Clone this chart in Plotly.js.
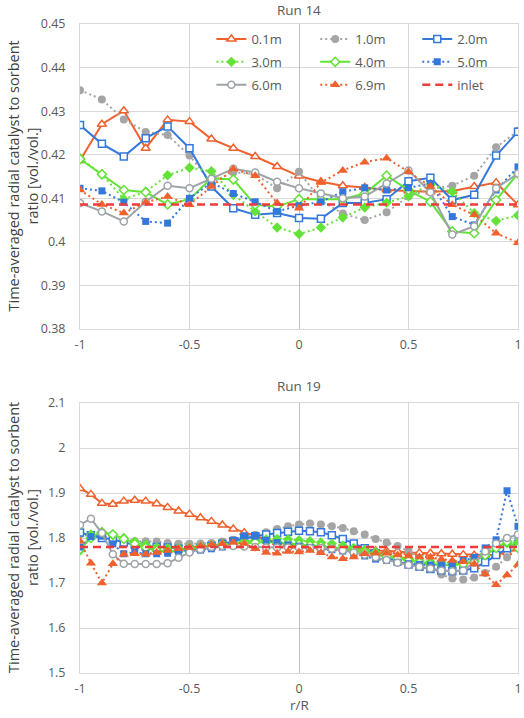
<!DOCTYPE html>
<html><head><meta charset="utf-8">
<script src="https://cdn.plot.ly/plotly-3.0.1.min.js"></script>
<style>html,body{margin:0;padding:0;background:#fff}#chart{width:524px;height:718px}</style>
</head><body><div id="chart"></div>
<script>
// ---------- DATA ----------
var seriesNames = ['0.1m','1.0m','2.0m','3.0m','4.0m','5.0m','6.0m','6.9m','inlet'];
var xTickVals = [-1,-0.5,0,0.5,1];
var xTickText = ['-1','-0.5','0','0.5','1'];
var panelTitles = ['Run 14','Run 19'];
var yTitle = 'Time-averaged radial catalyst to sorbent<br>ratio [vol./vol.]';
var xTitle = 'r/R';

// Run 14 (top), r/R step 0.1
var xTop = [-1,-0.9,-0.8,-0.7,-0.6,-0.5,-0.4,-0.3,-0.2,-0.1,0,0.1,0.2,0.3,0.4,0.5,0.6,0.7,0.8,0.9,1];
var top01 = [0.4187,0.4270,0.4301,0.4215,0.4280,0.4276,0.4236,0.4215,0.4196,0.4173,0.4151,0.4138,0.4129,0.4125,0.4119,0.4117,0.4115,0.4117,0.4127,0.4136,0.4085];
var top10 = [0.4348,0.4327,0.4281,0.4252,0.4245,0.4198,0.4136,0.4160,0.4155,0.4123,0.4161,0.4095,0.4065,0.4050,0.4068,0.4104,0.4122,0.4129,0.4152,0.4217,0.4255];
var top20 = [0.4268,0.4225,0.4196,0.4238,0.4265,0.4215,0.4127,0.4077,0.4062,0.4066,0.4055,0.4053,0.4089,0.4089,0.4098,0.4139,0.4147,0.4096,0.4108,0.4198,0.4253];
var top30 = [0.4192,0.4155,0.4098,0.4115,0.4153,0.4170,0.4162,0.4108,0.4070,0.4033,0.4018,0.4033,0.4056,0.4079,0.4090,0.4105,0.4133,0.4115,0.4066,0.4048,0.4061];
var top40 = [0.4190,0.4155,0.4119,0.4114,0.4086,0.4098,0.4146,0.4143,0.4085,0.4081,0.4098,0.4098,0.4098,0.4111,0.4152,0.4119,0.4092,0.4024,0.4020,0.4096,0.4157];
var top50 = [0.4123,0.4117,0.4091,0.4047,0.4043,0.4100,0.4136,0.4111,0.4092,0.4070,0.4083,0.4092,0.4115,0.4124,0.4119,0.4124,0.4134,0.4058,0.4039,0.4119,0.4172];
var top60 = [0.4089,0.4070,0.4047,0.4092,0.4129,0.4123,0.4145,0.4168,0.4159,0.4138,0.4123,0.4111,0.4100,0.4104,0.4134,0.4164,0.4114,0.4017,0.4036,0.4123,0.4157];
var top69 = [0.4119,0.4086,0.4066,0.4091,0.4104,0.4085,0.4127,0.4167,0.4152,0.4089,0.4077,0.4136,0.4164,0.4183,0.4192,0.4161,0.4127,0.4085,0.4062,0.4020,0.3998];
var xInlet = [-1,1];
var topInlet = [0.4086,0.4086];

// Run 19 (bottom), r/R step 0.05
var xBot = [-1,-0.95,-0.9,-0.85,-0.8,-0.75,-0.7,-0.65,-0.6,-0.55,-0.5,-0.45,-0.4,-0.35,-0.3,-0.25,-0.2,-0.15,-0.1,-0.05,0,0.05,0.1,0.15,0.2,0.25,0.3,0.35,0.4,0.45,0.5,0.55,0.6,0.65,0.7,0.75,0.8,0.85,0.9,0.95,1];
var bot01 = [1.910,1.897,1.877,1.875,1.882,1.884,1.882,1.876,1.868,1.860,1.853,1.845,1.837,1.829,1.820,1.812,1.804,1.797,1.790,1.786,1.783,1.781,1.779,1.777,1.776,1.775,1.774,1.772,1.771,1.770,1.768,1.767,1.766,1.765,1.764,1.763,1.762,1.762,1.763,1.768,1.776];
var bot10 = [1.808,1.805,1.805,1.800,1.795,1.793,1.793,1.792,1.789,1.787,1.787,1.788,1.789,1.792,1.796,1.801,1.807,1.813,1.820,1.826,1.830,1.832,1.830,1.826,1.822,1.815,1.808,1.798,1.790,1.782,1.771,1.756,1.736,1.719,1.710,1.708,1.712,1.722,1.736,1.757,1.800];
var bot20 = [1.812,1.806,1.800,1.797,1.790,1.785,1.781,1.780,1.779,1.776,1.775,1.778,1.782,1.787,1.793,1.799,1.804,1.808,1.811,1.814,1.816,1.815,1.813,1.806,1.798,1.788,1.777,1.766,1.756,1.748,1.741,1.736,1.731,1.728,1.726,1.728,1.733,1.746,1.762,1.777,1.786];
var bot30 = [1.772,1.808,1.812,1.806,1.800,1.792,1.785,1.779,1.777,1.777,1.779,1.781,1.783,1.786,1.790,1.793,1.795,1.797,1.798,1.797,1.795,1.793,1.790,1.787,1.783,1.778,1.774,1.769,1.764,1.758,1.754,1.750,1.747,1.745,1.745,1.747,1.752,1.765,1.780,1.788,1.790];
var bot40 = [1.775,1.800,1.813,1.808,1.798,1.787,1.779,1.772,1.770,1.771,1.775,1.779,1.782,1.785,1.788,1.789,1.790,1.791,1.790,1.788,1.786,1.784,1.782,1.779,1.776,1.772,1.768,1.764,1.759,1.755,1.750,1.746,1.742,1.740,1.740,1.742,1.748,1.762,1.778,1.792,1.778];
var bot50 = [1.780,1.803,1.804,1.787,1.765,1.768,1.765,1.765,1.766,1.770,1.772,1.773,1.776,1.780,1.795,1.805,1.804,1.795,1.790,1.785,1.782,1.779,1.776,1.774,1.771,1.766,1.760,1.753,1.750,1.746,1.743,1.741,1.740,1.740,1.742,1.750,1.757,1.778,1.796,1.905,1.826];
var bot60 = [1.829,1.843,1.811,1.764,1.743,1.742,1.742,1.742,1.744,1.756,1.768,1.775,1.780,1.782,1.782,1.781,1.780,1.779,1.779,1.779,1.779,1.778,1.778,1.776,1.773,1.768,1.763,1.757,1.751,1.745,1.740,1.736,1.732,1.728,1.726,1.728,1.745,1.770,1.788,1.800,1.808];
var bot69 = [1.793,1.744,1.700,1.743,1.764,1.765,1.764,1.768,1.772,1.776,1.779,1.782,1.785,1.787,1.790,1.788,1.776,1.768,1.766,1.770,1.769,1.772,1.767,1.758,1.754,1.758,1.765,1.766,1.766,1.762,1.760,1.758,1.757,1.753,1.750,1.747,1.742,1.720,1.696,1.718,1.741];
var botInlet = [1.78,1.78];

// ---------- STYLES ----------
var ORANGE = '#F0612D', GREY = '#A5A5A5', BLUE = '#3478DC', GREEN = '#63E337', GREY2 = '#9DA3A6', RED = '#F03B3B';
var DOT = '2px,3px';
var styles = [
  {color: ORANGE, dash: 'solid', symbol: 'triangle-up', fill: '#fff', size: 8},
  {color: GREY, dash: DOT, symbol: 'circle', fill: GREY, size: 8},
  {color: BLUE, dash: 'solid', symbol: 'square', fill: '#fff', size: 7},
  {color: GREEN, dash: DOT, symbol: 'diamond', fill: GREEN, size: 8},
  {color: GREEN, dash: 'solid', symbol: 'diamond', fill: '#fff', size: 7},
  {color: BLUE, dash: DOT, symbol: 'square', fill: BLUE, size: 7},
  {color: GREY2, dash: 'solid', symbol: 'circle', fill: '#fff', size: 7},
  {color: ORANGE, dash: DOT, symbol: 'triangle-up', fill: ORANGE, size: 9}
];
var legendOf = ['legend','legend2','legend3','legend','legend2','legend3','legend','legend2','legend3'];

var topY = [top01, top10, top20, top30, top40, top50, top60, top69];
var botY = [bot01, bot10, bot20, bot30, bot40, bot50, bot60, bot69];

var traces = [];
function addSet(xs, ys, xa, ya, showLeg) {
  for (var i = 0; i < ys.length; i++) {
    var s = styles[i];
    traces.push({
      x: xs, y: ys[i], xaxis: xa, yaxis: ya, type: 'scatter', mode: 'lines+markers',
      name: seriesNames[i], legend: legendOf[i], legendgroup: seriesNames[i], showlegend: showLeg,
      line: {color: s.color, width: 2, dash: s.dash},
      marker: {symbol: s.symbol, size: s.size, color: s.fill,
               line: {color: s.color, width: s.fill === '#fff' ? 1.5 : 0}},
      hoverinfo: 'skip'
    });
  }
}
addSet(xTop, topY, 'x', 'y', true);
traces.push({x: xInlet, y: topInlet, xaxis: 'x', yaxis: 'y', mode: 'lines', name: seriesNames[8],
  legend: legendOf[8], legendgroup: 'inlet', showlegend: true,
  line: {color: RED, width: 2.5, dash: '8px,5px'}});
addSet(xBot, botY, 'x2', 'y2', false);
traces.push({x: xInlet, y: botInlet, xaxis: 'x2', yaxis: 'y2', mode: 'lines', name: seriesNames[8],
  legendgroup: 'inlet', showlegend: false, line: {color: RED, width: 2.5, dash: '8px,5px'}});

var FONT = 'Open Sans, Noto Sans, sans-serif';
var TXT = '#595959';
function xax(anchor) {
  return {anchor: anchor, range: [-1, 1], tickmode: 'array', tickvals: xTickVals, ticktext: xTickText,
    showgrid: true, gridcolor: '#d9d9d9', gridwidth: 1, zeroline: true, zerolinecolor: '#bfbfbf', zerolinewidth: 1,
    showline: true, linecolor: '#d9d9d9', mirror: true, ticks: '', ticklabelstandoff: 4,
    tickfont: {size: 12.5, color: TXT, family: FONT}, fixedrange: true};
}
function yax(anchor, dom, rng, dt) {
  return {anchor: anchor, domain: dom, range: rng, tick0: rng[0], dtick: dt,
    showgrid: true, gridcolor: '#d9d9d9', gridwidth: 1, zeroline: false,
    showline: true, linecolor: '#d9d9d9', mirror: true, ticks: '', ticklabelstandoff: 11,
    tickfont: {size: 12.5, color: TXT, family: FONT}, fixedrange: true};
}
var legBase = {bgcolor: 'rgba(0,0,0,0)', borderwidth: 0, font: {size: 13, color: TXT, family: FONT},
  yanchor: 'top', xanchor: 'left', y: 1.0, tracegroupgap: 3, traceorder: 'grouped'};
function leg(x) { var o = JSON.parse(JSON.stringify(legBase)); o.x = x; return o; }

var layout = {
  width: 524, height: 718, margin: {l: 80, r: 6, t: 24, b: 45},
  paper_bgcolor: '#fff', plot_bgcolor: '#fff', font: {family: FONT, color: TXT},
  xaxis: xax('y'), yaxis: yax('x', [0.530, 1], [0.38, 0.45], 0.01),
  xaxis2: xax('y2'), yaxis2: yax('x2', [0, 0.416], [1.5, 2.1], 0.1),
  legend: leg(0.30), legend2: leg(0.537), legend3: leg(0.770),
  annotations: [
    {text: panelTitles[0], xref: 'paper', yref: 'paper', x: 0.5, y: 1.0216, xanchor: 'center', yanchor: 'middle', showarrow: false, font: {size: 13.5, color: TXT, family: FONT}},
    {text: panelTitles[1], xref: 'paper', yref: 'paper', x: 0.5, y: 0.4422, xanchor: 'center', yanchor: 'middle', showarrow: false, font: {size: 13.5, color: TXT, family: FONT}},
    {text: yTitle, xref: 'paper', yref: 'paper', x: 0, xshift: -57, y: 0.765, xanchor: 'center', yanchor: 'middle', textangle: -90, showarrow: false, font: {size: 14.5, color: '#404040', family: FONT}},
    {text: yTitle, xref: 'paper', yref: 'paper', x: 0, xshift: -57, y: 0.208, xanchor: 'center', yanchor: 'middle', textangle: -90, showarrow: false, font: {size: 14.5, color: '#404040', family: FONT}},
    {text: xTitle, xref: 'paper', yref: 'paper', x: 0.5, y: -0.049, xanchor: 'center', yanchor: 'middle', showarrow: false, font: {size: 13.5, color: TXT, family: FONT}}
  ]
};
Plotly.newPlot('chart', traces, layout, {staticPlot: true, displayModeBar: false});
</script></body></html>
